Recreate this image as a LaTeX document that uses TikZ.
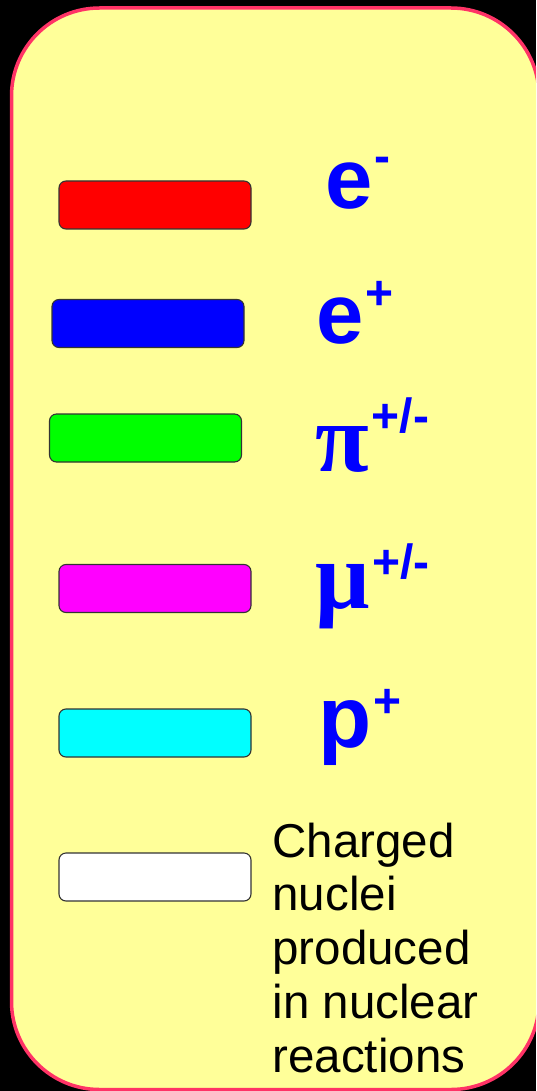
\documentclass[tikz,border=0pt]{standalone}
\usepackage{fontspec}
\setmainfont{Liberation Sans}
\newfontfamily\grk{Liberation Serif}
\definecolor{panelfill}{HTML}{FFFF99}
\definecolor{panelline}{HTML}{FF3366}
\definecolor{barline}{HTML}{333333}
\definecolor{lblblue}{HTML}{0000FF}
\definecolor{cred}{HTML}{FF0000}
\definecolor{cblue}{HTML}{0000FF}
\definecolor{cgreen}{HTML}{00FF00}
\definecolor{cmag}{HTML}{FF00FF}
\definecolor{ccyan}{HTML}{00FFFF}
\definecolor{cwhite}{HTML}{FFFFFF}
\newcommand{\supx}[2]{\raisebox{#1}{\fontsize{48}{48}\selectfont #2}}
\begin{document}
\begin{tikzpicture}[x=1pt,y=-1pt,
  panel/.style={draw=panelline, line width=3.5pt, fill=panelfill, rounded corners=88pt},
  legbar/.style={rectangle, draw=barline, line width=1.1pt, rounded corners=7pt,
    minimum width=192pt, minimum height=48pt, inner sep=0pt, outer sep=0pt},
  sym/.style={inner sep=0pt, outer sep=0pt, anchor=base west, text=lblblue, font=\bfseries},
  desc/.style={inner sep=0pt, outer sep=0pt, anchor=base west, text=black, align=left,
    font=\fontsize{47.5}{53.7}\selectfont}]
\useasboundingbox (0,0) rectangle (536,1091);
\fill[black] (0,0) rectangle (536,1091);
\begin{scope}
\clip (0,0) rectangle (536,1091);
\draw[panel] (11.5,8) rectangle (539,1089.5);
\end{scope}
% legend bars
\node[legbar, fill=cred]   (bred)   at (155,205) {};
\node[legbar, fill=cblue]  (bblue)  at (148,323.5) {};
\node[legbar, fill=cgreen] (bgreen) at (145.5,438) {};
\node[legbar, fill=cmag]   (bmag)   at (155,588.5) {};
\node[legbar, fill=ccyan]  (bcyan)  at (155,733) {};
\node[legbar, fill=cwhite] (bwhite) at (155,877) {};
% labels
\node[sym, font=\bfseries\fontsize{85}{85}\selectfont] (lem) at (325,209) {e\kern2pt\supx{36pt}{-}};
\node[sym, font=\bfseries\fontsize{85}{85}\selectfont] (lep) at (316,343) {e\kern2pt\supx{34pt}{+}};
\node[sym, font=\bfseries\fontsize{98}{98}\selectfont] (lpi) at (315,471) {{\grk π}\kern3pt\supx{39pt}{+/-}};
\node[sym, font=\bfseries\fontsize{96}{96}\selectfont] (lmu) at (315,608) {{\grk μ}\kern3pt\supx{30pt}{+/-}};
\node[sym, font=\bfseries\fontsize{87}{87}\selectfont] (lpp) at (318,747) {p\kern2pt\supx{30pt}{+}};
\node[desc] (lnuc) at (272.5,1072) {Charged\\nuclei\\produced\\in nuclear\\reactions};
\end{tikzpicture}
\end{document}
